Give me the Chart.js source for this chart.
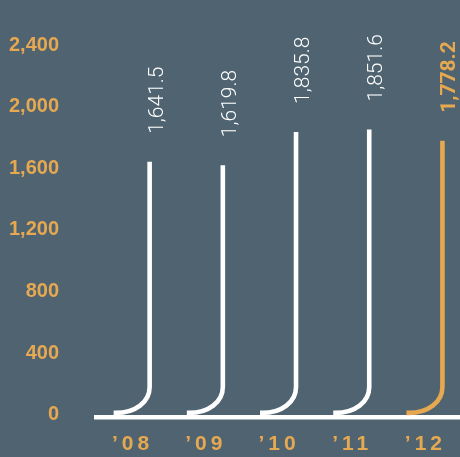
<!DOCTYPE html>
<html>
<head>
<meta charset="utf-8">
<script src="https://cdn.jsdelivr.net/npm/chart.js@4/dist/chart.umd.min.js"></script>
<style>
  html, body { margin: 0; padding: 0; background: #4f6371; }
  #wrap { width: 460px; height: 457px; position: relative; }
</style>
</head>
<body>
<div id="wrap"><canvas id="chart" width="460" height="457"></canvas></div>
<script>
// Net sales by fiscal year (billions)
const years = ['’08', '’09', '’10', '’11', '’12'];
const sales = [1641.5, 1619.8, 1835.8, 1851.6, 1778.2];
const yTickValues = [0, 400, 800, 1200, 1600, 2000, 2400];

const WHITE = '#ffffff';
const ORANGE = '#e6a850';

const fmt = v => v.toLocaleString('en-US', { minimumFractionDigits: 1, maximumFractionDigits: 1 });

// Draws each bar as a stroke that rises from the baseline with a rounded foot,
// plus the rotated value labels and the spaced year labels.
const stemPlugin = {
  id: 'stems',
  afterDatasetsDraw(chart) {
    const ctx = chart.ctx;
    const xs = chart.scales.x;
    const ys = chart.scales.y;
    const meta = chart.getDatasetMeta(0);
    const area = chart.chartArea;
    const y0 = ys.getPixelForValue(0);
    const catW = xs.width / years.length;
    const lw = 4.6;
    const last = sales.length - 1;

    ctx.save();
    ctx.lineCap = 'butt';
    ctx.lineJoin = 'round';

    // baseline
    ctx.strokeStyle = WHITE;
    ctx.lineWidth = lw;
    ctx.beginPath();
    ctx.moveTo(area.left, y0 + 2.6);
    ctx.lineTo(area.right, y0 + 2.6);
    ctx.stroke();

    meta.data.forEach((el, i) => {
      const bx = el.x + catW * 0.26;
      const top = el.y;
      const color = i === last ? ORANGE : WHITE;
      const ty = y0 - 1.8;
      const rx = 34, ry = 26;

      ctx.strokeStyle = color;
      ctx.lineWidth = lw;
      ctx.beginPath();
      ctx.moveTo(bx, top);
      ctx.lineTo(bx, ty - ry);
      ctx.bezierCurveTo(bx, ty - ry * 0.42, bx - rx * 0.42, ty, bx - rx, ty);
      ctx.lineTo(bx - rx - 2, ty);
      ctx.stroke();

      // value label, reading bottom to top
      ctx.save();
      ctx.translate(bx + 13, top - 28);
      ctx.rotate(-Math.PI / 2);
      ctx.fillStyle = color;
      ctx.font = (i === last ? 'bold ' : '300 ') + '21px Roboto';
      ctx.textAlign = 'left';
      ctx.textBaseline = 'alphabetic';
      ctx.fillText(fmt(sales[i]), 0, 0);
      ctx.restore();
    });

    // year labels with letter spacing
    ctx.fillStyle = ORANGE;
    ctx.font = 'bold 21px "Liberation Sans"';
    ctx.letterSpacing = '4px';
    ctx.textAlign = 'center';
    ctx.textBaseline = 'middle';
    years.forEach((label, i) => {
      const cx = xs.getPixelForValue(i);
      ctx.fillText(label, cx + 2, 444);
    });
    ctx.restore();
  }
};

new Chart(document.getElementById('chart'), {
  type: 'bar',
  data: {
    labels: years,
    datasets: [{
      data: sales,
      backgroundColor: 'rgba(0,0,0,0)',
      borderWidth: 0
    }]
  },
  options: {
    responsive: false,
    animation: false,
    devicePixelRatio: 1,
    layout: { padding: { top: 45, left: 0, right: 0, bottom: 42.3 } },
    plugins: {
      legend: { display: false },
      tooltip: { enabled: false }
    },
    scales: {
      x: { display: false },
      y: {
        min: 0,
        max: 2400,
        grid: { display: false, drawTicks: false },
        border: { display: false },
        afterBuildTicks: s => { s.ticks = yTickValues.map(v => ({ value: v })); },
        ticks: {
          color: ORANGE,
          padding: 35,
          font: { family: '"Liberation Sans"', weight: 'bold', size: 20 },
          callback: v => v.toLocaleString('en-US')
        },
        afterFit: s => {
          s.width = 94;
          s.paddingTop = 0;
          s.paddingBottom = 0;
        }
      }
    }
  },
  plugins: [stemPlugin]
});
</script>
</body>
</html>
